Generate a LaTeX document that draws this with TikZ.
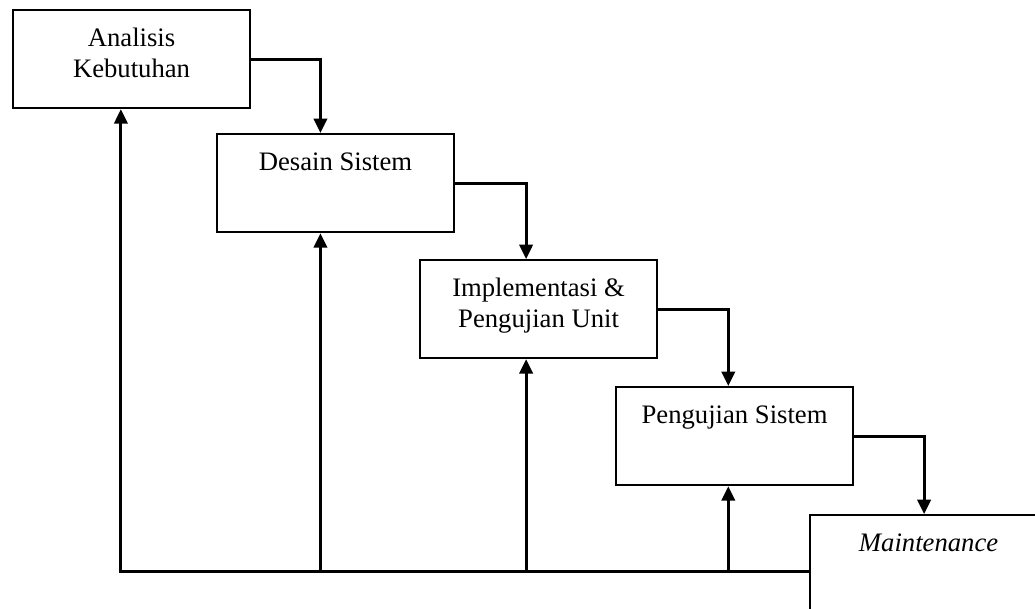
\documentclass[tikz,border=0pt]{standalone}
\usepackage{fontspec}
\setmainfont{Liberation Serif}
\usetikzlibrary{arrows.meta}
\begin{document}
\begin{tikzpicture}[x=0.45pt, y=-0.45pt, line width=1.3pt, >={Triangle[length=6.5pt,width=6pt]},
    tahap/.style = {draw, line width=1pt, anchor=north west, minimum width=106.6pt, inner xsep=0pt, inner ysep=0pt, align=center, text height=16.5pt, text depth=27.6pt, font=\fontsize{12}{13.8}\selectfont},
    tahapdua/.style = {tahap, text height=30.3pt, text depth=13.8pt}]
    \useasboundingbox (0,0) rectangle (1035,608);
    % Kotak tahapan
    \node[tahapdua] (b1) at (12,9) {Analisis\\Kebutuhan};
    \node[tahap] (b2) at (216,133) {Desain Sistem};
    \node[tahapdua] (b3) at (419,259) {Implementasi \&\\Pengujian Unit};
    \node[tahap] (b4) at (615,386) {Pengujian Sistem};
    \node[tahap] (b5) at (809,514) {\textit{Maintenance}};

    % Titik masuk panah
    \coordinate (m1) at ([xshift=49pt]b1.south west);
    \coordinate (m2) at ([xshift=47pt]b2.south west);
    \coordinate (m3) at ([xshift=48.2pt]b3.south west);
    \coordinate (m4) at ([xshift=51pt]b4.south west);

    % Panah turun
    \draw[->] (b1.east) -| (m2 |- b2.north);
    \draw[->] (b2.east) -| (m3 |- b3.north);
    \draw[->] (b3.east) -| (m4 |- b4.north);
    \draw[->] (b4.east) -| ([xshift=51.8pt]b5.north west);

    % Panah balik
    \coordinate (balik) at ([yshift=-3.2pt]b5.west);
    \draw[->] (balik) -| (m1);
    \draw[->] (balik -| m2) -- (m2);
    \draw[->] (balik -| m3) -- (m3);
    \draw[->] (balik -| m4) -- (m4);

\end{tikzpicture}
\end{document}
